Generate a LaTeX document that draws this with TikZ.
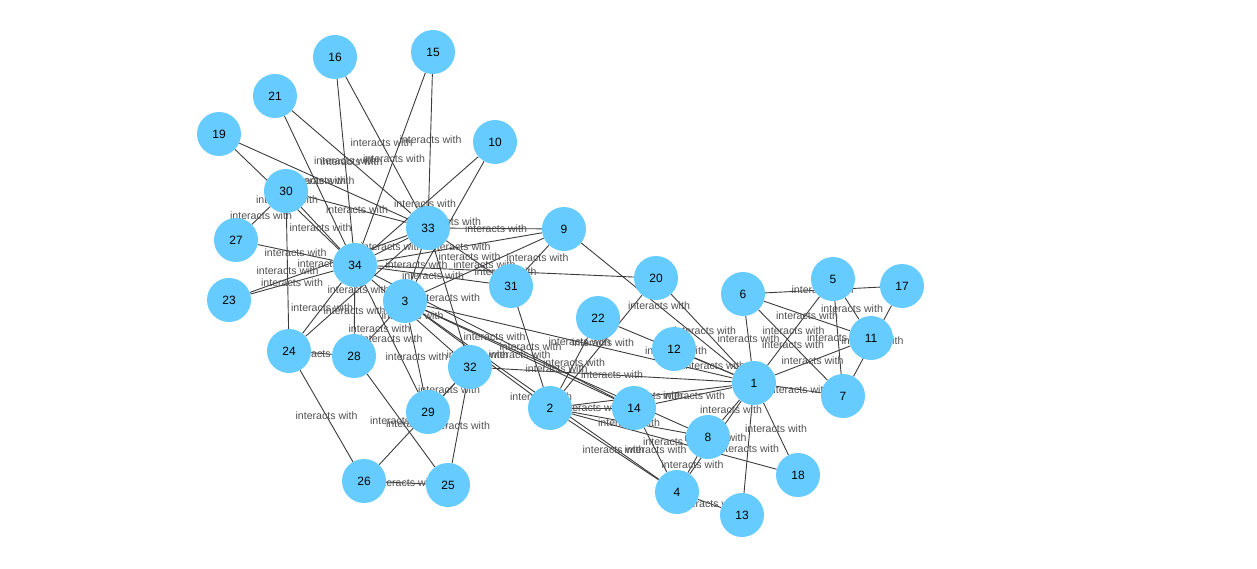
\documentclass[tikz,border=0pt]{standalone}
\usepackage{fontspec}
\setmainfont{Liberation Sans}
\definecolor{nodefill}{RGB}{102,204,255}
\definecolor{edgecol}{RGB}{60,60,60}
\definecolor{lblcol}{RGB}{80,80,80}
\pgfdeclarelayer{edges}
\pgfdeclarelayer{labels}
\pgfsetlayers{edges,labels,main}
\tikzset{
  vert/.style={circle, fill=nodefill, draw=none, minimum size=44pt, inner sep=0pt, font=\fontsize{12}{14}\selectfont},
  edge/.style={draw=edgecol, line width=0.9pt},
  lbl/.style={font=\fontsize{10.6}{12}\selectfont, text=lblcol, inner sep=0pt}
}
\begin{document}
\begin{tikzpicture}[x=1pt,y=-1pt]
\useasboundingbox (0,0) rectangle (1257,569);
\foreach \n/\x/\y in {1/754/383, 2/550/408, 3/405/301, 4/677/492, 5/833/279, 6/743/294, 7/843/396, 8/708/437, 9/564/229, 10/495/142, 11/871/338, 12/674/349, 13/742/515, 14/634/408, 15/433/52, 16/335/57, 17/902/286, 18/798/475, 19/219/134, 20/656/278, 21/275/96, 22/598/318, 23/229/300, 24/289/351, 25/448/485, 26/364/481, 27/236/240, 28/354/356, 29/428/412, 30/286/191, 31/511/286, 32/470/367, 33/428/228, 34/355/265}
  {\node[vert] (n\n) at (\x,\y) {\n};}
\foreach \a/\b in {1/2,1/3,1/4,1/5,1/6,1/7,1/8,1/9,1/11,1/12,1/13,1/14,1/18,1/20,1/22,1/32,
  2/3,2/4,2/8,2/14,2/18,2/20,2/22,2/31,
  3/4,3/8,3/9,3/10,3/14,3/28,3/29,3/33,
  4/8,4/13,4/14,5/7,5/11,6/7,6/11,6/17,7/17,
  9/31,9/33,9/34,10/34,14/34,15/33,15/34,16/33,16/34,19/33,19/34,20/34,21/33,21/34,23/33,23/34,
  24/26,24/28,24/30,24/33,24/34,25/26,25/28,25/32,26/32,27/30,27/34,28/34,29/32,29/34,
  30/33,30/34,31/33,31/34,32/33,32/34,33/34}
{
  \begin{pgfonlayer}{edges}
    \draw[edge] (n\a) -- (n\b);
  \end{pgfonlayer}
  \begin{pgfonlayer}{labels}
    \path (n\a.center) -- (n\b.center) node[midway, lbl] {interacts with};
  \end{pgfonlayer}
}
\end{tikzpicture}
\end{document}
